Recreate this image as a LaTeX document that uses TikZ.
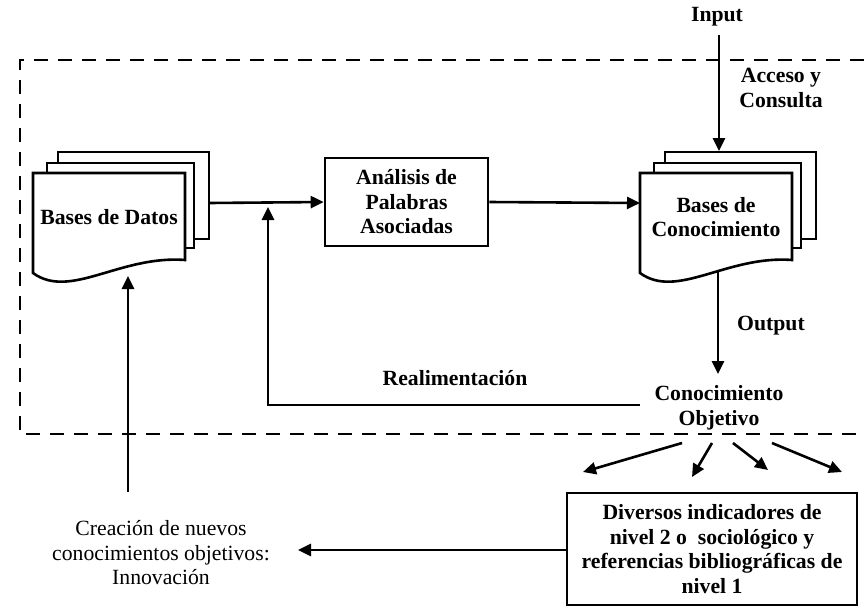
\documentclass[tikz,border=0pt]{standalone}
\usepackage{fontspec}
\setmainfont{Liberation Serif}
\usetikzlibrary{arrows.meta}
\begin{document}
\begin{tikzpicture}[x=1pt,y=-1pt,line width=2.6pt,
  arr/.style={-{Triangle[length=13pt,width=12pt]}},
  lbl/.style={font=\fontsize{21.7}{24.5}\selectfont\bfseries,align=center,inner sep=0pt},
  reg/.style={font=\fontsize{21.7}{24.5}\selectfont,align=center,inner sep=0pt},
  boxst/.style={draw,fill=white,font=\fontsize{21.7}{24.5}\selectfont\bfseries,align=center,inner sep=0pt},
  frame/.style={line width=2.6pt,dash pattern=on 14pt off 10pt}]
\useasboundingbox (0,0) rectangle (864,611);
% dashed frame
\draw[frame] (864,60) -- (20,60) -- (20,434) -- (864,434);
% document stacks
\foreach \dx in {0,607}{
  \begin{scope}[shift={(\dx,0)}]
    \filldraw[fill=white] (58,152) rectangle (209,239);
    \filldraw[fill=white] (47,163) rectangle (194,248);
    \filldraw[fill=white] (33,173) -- (185,173) -- (185,260)
      .. controls (120,255) and (70,300) .. (33,273) -- cycle;
  \end{scope}
}
\node[lbl] (datos) at (109,217) {Bases de Datos};
\node[lbl] (conoc) at (716,217) {Bases de\\Conocimiento};
\coordinate (datosR) at (209,203);
\coordinate (datosB) at (128,276);
\coordinate (conL) at (640,203);
\coordinate (conTop) at (719,151);
\coordinate (conBot) at (718,270);
% analysis box
\node[boxst,minimum width=163pt,minimum height=88pt] (analisis) at (406.5,202) {Análisis de\\Palabras\\Asociadas};
\draw[arr] (datosR) -- (analisis.west);
\draw[arr] (analisis.east) -- (conL);
% input
\node[lbl] (input) at (717,17) {Input};
\coordinate (inTop) at (719,35);
\draw[arr] (inTop) -- (conTop);
\node[lbl] (acceso) at (781,88) {Acceso y\\Consulta};
% output
\node[lbl] (output) at (771,326) {Output};
\node[lbl] (objetivo) at (719,408) {Conocimiento\\Objetivo};
\coordinate (objTop) at (718,374);
\draw[arr] (conBot) -- (objTop);
% feedback
\coordinate (fbStart) at (640,405);
\coordinate (fbEnd) at (268,207);
\draw[arr] (fbStart) -| (fbEnd);
\node[lbl] (realim) at (455,378) {Realimentación};
% creation
\node[reg] (creacion) at (161,553) {Creación de nuevos\\conocimientos objetivos:\\Innovación};
\coordinate (creaTop) at (128,492);
\draw[arr] (creaTop) -- (datosB);
% indicators box
\node[boxst,minimum width=290pt,minimum height=112pt] (diversos) at (712,549) {Diversos indicadores de\\nivel 2 o\ \ sociológico y\\referencias bibliográficas de\\nivel 1};
\coordinate (creaR) at (298,550);
\draw[arr] (diversos.west |- creaR) -- (creaR);
% fan arrows
\coordinate (o1) at (682,443); \coordinate (e1) at (583,472);
\coordinate (o2) at (712,443); \coordinate (e2) at (692,477);
\coordinate (o3) at (733,443); \coordinate (e3) at (768,470);
\coordinate (o4) at (772,443); \coordinate (e4) at (842,472);
\draw[arr] (o1) -- (e1);
\draw[arr] (o2) -- (e2);
\draw[arr] (o3) -- (e3);
\draw[arr] (o4) -- (e4);
\end{tikzpicture}
\end{document}
